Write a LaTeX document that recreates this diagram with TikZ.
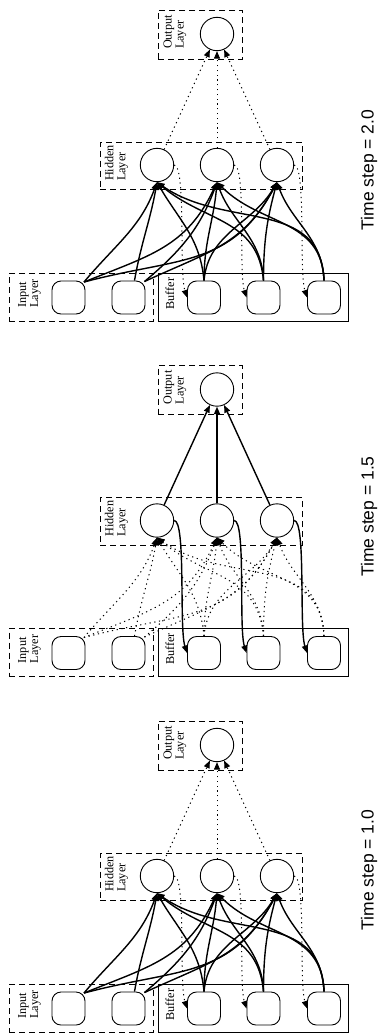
\documentclass[tikz,border=0pt]{standalone}
\usepackage{fontspec}
\setmainfont{Liberation Serif}
\newfontfamily\labelfont{Liberation Sans}
\usetikzlibrary{arrows.meta}
\tikzset{
  layerbox/.style={draw, dash pattern=on 6pt off 4pt, line width=0.9pt, inner sep=0pt},
  bufbox/.style={draw, line width=0.9pt, inner sep=0pt},
  neuron/.style={circle, draw, minimum size=33.4pt, inner sep=0pt, line width=0.9pt},
  unit/.style={rectangle, rounded corners=9pt, draw, minimum size=33pt, inner sep=0pt, line width=0.9pt},
  lbl/.style={font=\fontsize{12.2}{12}\selectfont, rotate=90, align=left, inner sep=0pt},
  tlbl/.style={font=\labelfont\fontsize{17.5}{20}\selectfont, rotate=90, inner sep=0pt},
  tiparrow/.style={-{Triangle[length=7.5pt,width=6pt]}},
  solidc/.style={line width=1.4pt, tiparrow},
  dotc/.style={line width=1pt, dash pattern=on 1.2pt off 3.6pt, tiparrow},
}
\newcommand\drawpanel[7]{%
\begin{scope}[yshift=-#2pt]
  \node[layerbox, minimum width=84pt, minimum height=49pt] (ol#1) at (200,-34.5) {};
  \node[layerbox, minimum width=202pt, minimum height=47.5pt] (hl#1) at (201,-165.75) {};
  \node[layerbox, minimum width=144pt, minimum height=48pt] (il#1) at (81,-297) {};
  \node[bufbox, minimum width=190pt, minimum height=48pt] (bl#1) at (253,-297) {};
  \node[lbl] (olt#1) at (175,-32) {Output\\Layer};
  \node[lbl] (hlt#1) at (116.5,-163) {Hidden\\Layer};
  \node[lbl] (ilt#1) at (29.5,-293.5) {Input\\Layer};
  \node[lbl] (blt#1) at (170,-293.5) {Buffer};
  \node[neuron] (o#1) at (217,-34) {};
  \node[neuron] (ha#1) at (157,-165) {};
  \node[neuron] (hb#1) at (217,-165) {};
  \node[neuron] (hc#1) at (277,-165) {};
  \node[unit] (ia#1) at (68.5,-297.5) {};
  \node[unit] (ib#1) at (128.5,-297.5) {};
  \node[unit] (ba#1) at (204,-297.5) {};
  \node[unit] (bb#1) at (263.5,-297.5) {};
  \node[unit] (bc#1) at (324,-297.5) {};
  \node[tlbl] (t#1) at (369,-#7) {#6};
  % input -> hidden
  \draw[#3] ([shift={(-1.5,-1.5)}]ia#1.north east) to[out=50,in=-110] (ha#1.south);
  \draw[#3] ([shift={(-1.5,-1.5)}]ia#1.north east) to[out=22,in=-115,looseness=1.1] (hb#1.south);
  \draw[#3] ([shift={(-1.5,-1.5)}]ia#1.north east) to[out=15,in=-118,looseness=1.15] (hc#1.south);
  \draw[#3] ([xshift=6pt]ib#1.north) to[out=80,in=-100] (ha#1.south);
  \draw[#3] ([shift={(-1,-1)}]ib#1.north east) to[out=40,in=-110] (hb#1.south);
  \draw[#3] ([shift={(-1,-1)}]ib#1.north east) to[out=25,in=-118,looseness=1.1] (hc#1.south);
  % buffer -> hidden
  \draw[#3] (ba#1.north) to[out=95,in=-60] (ha#1.south);
  \draw[#3] (ba#1.north) to[out=90,in=-95] (hb#1.south);
  \draw[#3] (ba#1.north) to[out=85,in=-120] (hc#1.south);
  \draw[#3] (bb#1.north) to[out=95,in=-40,looseness=1.1] (ha#1.south);
  \draw[#3] (bb#1.north) to[out=92,in=-70] (hb#1.south);
  \draw[#3] (bb#1.north) to[out=90,in=-105] (hc#1.south);
  \draw[#3] (bc#1.north) to[out=92,in=-35,looseness=1.1] (ha#1.south);
  \draw[#3] (bc#1.north) to[out=92,in=-45,looseness=1.1] (hb#1.south);
  \draw[#3] (bc#1.north) to[out=92,in=-70] (hc#1.south);
  % hidden -> output
  \draw[#4] (ha#1) -- (o#1);
  \draw[#4] (hb#1) -- (o#1);
  \draw[#4] (hc#1) -- (o#1);
  % hidden -> buffer
  \draw[#5] (ha#1.east) .. controls +(12,0) and +(-8,25) .. (ba#1.west);
  \draw[#5] (hb#1.east) .. controls +(12,0) and +(-8,25) .. (bb#1.west);
  \draw[#5] (hc#1.east) .. controls +(12,0) and +(-8,25) .. (bc#1.west);
\end{scope}}
\begin{document}
\begin{tikzpicture}[x=1pt,y=1pt]
  \fill[white] (0,0) rectangle (379,-1034);
  \useasboundingbox (0,0) rectangle (379,-1034);
  \drawpanel{A}{0}{solidc}{dotc}{dotc}{Time step = 2.0}{170}
  \drawpanel{B}{355.5}{dotc}{solidc}{solidc}{Time step = 1.5}{161}
  \drawpanel{C}{711}{solidc}{dotc}{dotc}{Time step = 1.0}{159}
\end{tikzpicture}
\end{document}
